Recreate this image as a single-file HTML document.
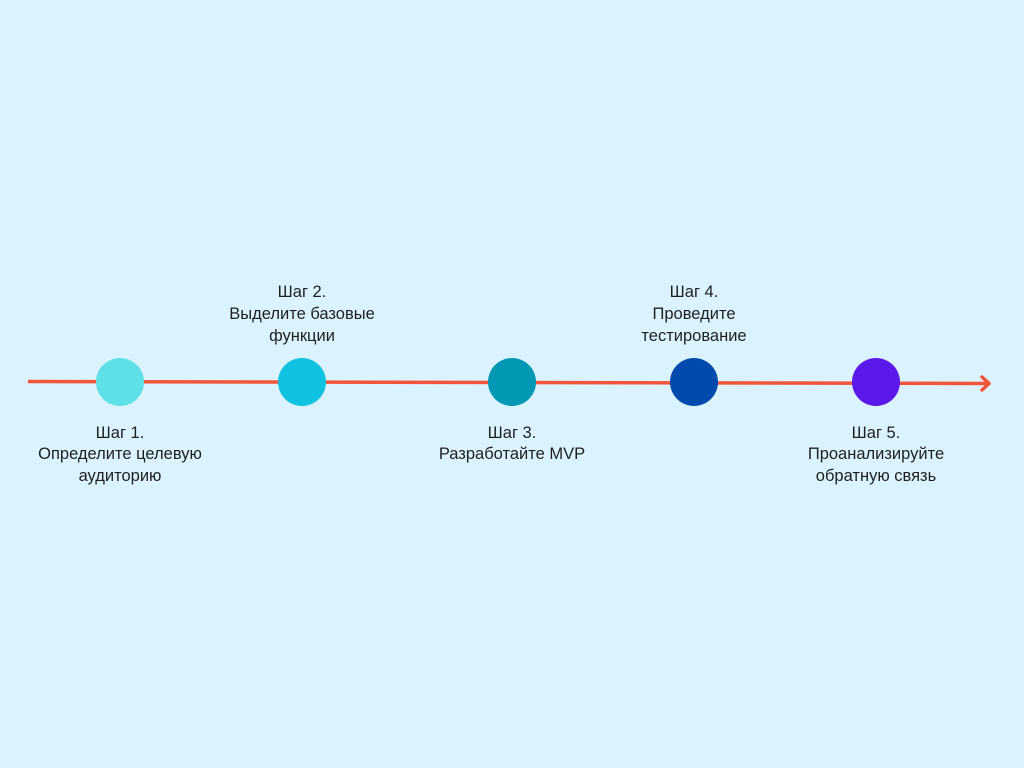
<!DOCTYPE html>
<html><head><meta charset="utf-8"><style>
html,body{margin:0;padding:0;background:#dbf3fe;}
svg{display:block}
text{font-family:"Liberation Sans","DejaVu Sans",sans-serif;font-size:16.5px;fill:#1f1f1f;text-anchor:middle}
</style></head><body>
<svg width="1024" height="768" viewBox="0 0 1024 768">
<rect width="1024" height="768" fill="#dbf3fe"/>
<line x1="28" y1="381.5" x2="989" y2="383.5" stroke="#f2553a" stroke-width="3.5"/>
<polyline points="982,377 989,383.5 982,390" fill="none" stroke="#f2553a" stroke-width="3.5" stroke-linecap="round" stroke-linejoin="round"/>
<circle cx="120" cy="382" r="24" fill="#5ee0e6"/>
<circle cx="302" cy="382" r="24" fill="#0ec2e0"/>
<circle cx="512" cy="382" r="24" fill="#0098b3"/>
<circle cx="694" cy="382" r="24" fill="#004aad"/>
<circle cx="876" cy="382" r="24" fill="#5a19e8"/>
<text x="120" y="438">Шаг 1.</text>
<text x="120" y="459">Определите целевую</text>
<text x="120" y="481">аудиторию</text>
<text x="302" y="297">Шаг 2.</text>
<text x="302" y="319">Выделите базовые</text>
<text x="302" y="341">функции</text>
<text x="512" y="438">Шаг 3.</text>
<text x="512" y="459">Разработайте MVP</text>
<text x="694" y="297">Шаг 4.</text>
<text x="694" y="319">Проведите</text>
<text x="694" y="341">тестирование</text>
<text x="876" y="438">Шаг 5.</text>
<text x="876" y="459">Проанализируйте</text>
<text x="876" y="481">обратную связь</text>
</svg>
</body></html>
